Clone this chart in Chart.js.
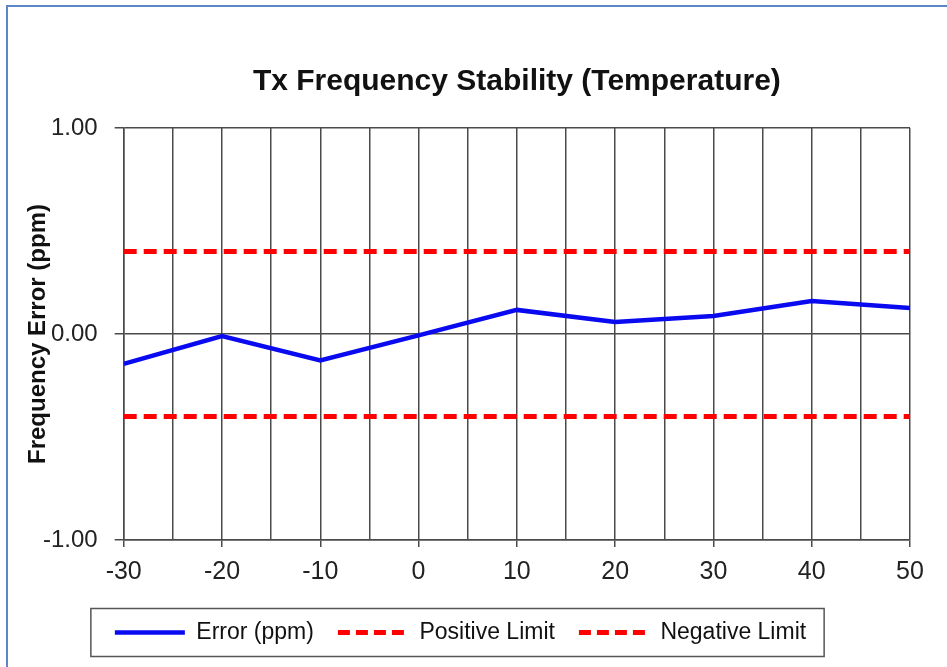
<!DOCTYPE html>
<html>
<head>
<meta charset="utf-8">
<script src="https://cdn.jsdelivr.net/npm/chart.js@4/dist/chart.umd.min.js"></script>
<style>
  html, body { margin: 0; padding: 0; background: #fff; }
</style>
</head>
<body>
<canvas id="myChart" width="947" height="667"></canvas>
<script>
// values
const temps = [-30, -20, -10, 0, 10, 20, 30, 40, 50];
const errorPpm = [-0.145, -0.01, -0.128, -0.007, 0.117, 0.058, 0.087, 0.16, 0.126];
const positiveLimit = [0.4, 0.4, 0.4, 0.4, 0.4, 0.4, 0.4, 0.4, 0.4];
const negativeLimit = [-0.4, -0.4, -0.4, -0.4, -0.4, -0.4, -0.4, -0.4, -0.4];
const seriesNames = ["Error (ppm)", "Positive Limit", "Negative Limit"];

const FONT = "'Liberation Sans', Arial, sans-serif";
const gridColor = "#4a4a4a";

const toPoints = (ys) => temps.map((t, i) => ({ x: t, y: ys[i] }));

// blue outer frame of the picture
const framePlugin = {
  id: "frame",
  beforeDraw(chart) {
    const ctx = chart.ctx;
    ctx.save();
    ctx.fillStyle = "#fff";
    ctx.fillRect(0, 0, chart.width, chart.height);
    ctx.strokeStyle = "#5b87c8";
    ctx.lineWidth = 2;
    ctx.strokeRect(7, 6, chart.width + 20, chart.height + 20);
    ctx.restore();
  },
};

// box round the legend like the excel one
const legendBoxPlugin = {
  id: "legendBox",
  afterDraw(chart) {
    const boxes = chart.legend.legendHitBoxes;
    if (!boxes || !boxes.length) return;
    let left = Infinity, right = -Infinity, cy = 0;
    boxes.forEach((b) => {
      left = Math.min(left, b.left);
      right = Math.max(right, b.left + b.width);
      cy = b.top + b.height / 2;
    });
    const ctx = chart.ctx;
    ctx.save();
    ctx.strokeStyle = "#555";
    ctx.lineWidth = 1.5;
    ctx.strokeRect(left - 24, cy - 24, right - left + 42, 48);
    ctx.restore();
  },
};

const ctx = document.getElementById("myChart").getContext("2d");

window.myChart = new Chart(ctx, {
  type: "line",
  data: {
    datasets: [
      {
        label: seriesNames[0],
        data: toPoints(errorPpm),
        borderColor: "#0a0af0",
        backgroundColor: "#0a0af0",
        borderWidth: 4.5,
        pointRadius: 0,
        tension: 0,
      },
      {
        label: seriesNames[1],
        data: toPoints(positiveLimit),
        borderColor: "#ff0000",
        backgroundColor: "#ff0000",
        borderWidth: 5,
        borderDash: [13, 7],
        pointRadius: 0,
      },
      {
        label: seriesNames[2],
        data: toPoints(negativeLimit),
        borderColor: "#ff0000",
        backgroundColor: "#ff0000",
        borderWidth: 5,
        borderDash: [13, 7],
        pointRadius: 0,
      },
    ],
  },
  options: {
    responsive: false,
    animation: false,
    layout: {
      padding: { top: 50, left: 11, right: 37, bottom: 13 },
    },
    scales: {
      x: {
        type: "linear",
        min: -30,
        max: 50,
        ticks: {
          stepSize: 5,
          autoSkip: false,
          maxRotation: 0,
          padding: 10,
          color: "#222",
          font: { family: FONT, size: 25 },
          callback: (v) => (v % 10 === 0 ? String(v) : ""),
        },
        grid: {
          color: gridColor,
          lineWidth: 1.5,
          tickLength: 7,
          tickColor: (c) => (c.tick && c.tick.value % 10 === 0 ? gridColor : "rgba(0,0,0,0)"),
        },
        border: { color: gridColor, width: 1.5 },
      },
      y: {
        min: -1,
        max: 1,
        ticks: {
          stepSize: 1,
          padding: 17,
          color: "#222",
          font: { family: FONT, size: 24 },
          callback: (v) => v.toFixed(2),
        },
        grid: {
          color: gridColor,
          lineWidth: 1.5,
          tickLength: 9,
        },
        border: { color: gridColor, width: 1.5 },
        title: {
          display: true,
          text: "Frequency Error (ppm)",
          color: "#111",
          font: { family: FONT, size: 24, weight: "bold", lineHeight: 1 },
          padding: { top: 15, bottom: -24 },
        },
      },
    },
    plugins: {
      title: {
        display: true,
        fullSize: false,
        text: "Tx Frequency Stability (Temperature)",
        color: "#111",
        font: { family: FONT, size: 30, weight: "bold", lineHeight: 1.2 },
        padding: { top: 14, bottom: 28 },
      },
      legend: {
        position: "bottom",
        labels: {
          usePointStyle: true,
          pointStyle: "line",
          pointStyleWidth: 70,
          padding: 24,
          color: "#111",
          font: { family: FONT, size: 23 },
          generateLabels: (chart) => {
            const items = Chart.defaults.plugins.legend.labels.generateLabels(chart);
            items.forEach((item) => {
              const ds = chart.data.datasets[item.datasetIndex];
              item.lineDash = ds.borderDash ? [12, 6] : [];
              item.lineWidth = ds.borderWidth;
              item.strokeStyle = ds.borderColor;
              item.pointStyle = "line";
            });
            return items;
          },
        },
      },
      tooltip: { enabled: false },
    },
  },
  plugins: [framePlugin, legendBoxPlugin],
});
</script>
</body>
</html>
